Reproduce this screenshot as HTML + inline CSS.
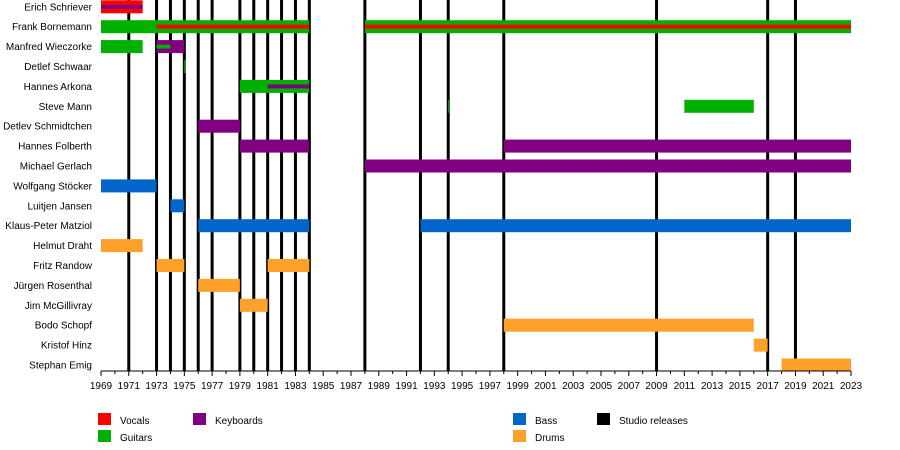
<!DOCTYPE html>
<html><head><meta charset="utf-8"><style>
body{margin:0;background:#fff;}
svg{display:block;font-family:"Liberation Sans",Arial,sans-serif;}
</style></head><body>
<svg id="chart" width="900" height="450" viewBox="0 0 900 450"></svg>
<script>
const members=["Erich Schriever","Frank Bornemann","Manfred Wieczorke","Detlef Schwaar","Hannes Arkona","Steve Mann","Detlev Schmidtchen","Hannes Folberth","Michael Gerlach","Wolfgang Stöcker","Luitjen Jansen","Klaus-Peter Matziol","Helmut Draht","Fritz Randow","Jürgen Rosenthal","Jim McGillivray","Bodo Schopf","Kristof Hinz","Stephan Emig"];
const barMember=[0,1,1,2,2,3,4,5,5,6,7,7,8,9,10,11,11,12,13,13,14,15,16,17,18];
const barRole=["vocals","guitars","guitars","guitars","keyboards","guitars","guitars","guitars","guitars","keyboards","keyboards","keyboards","keyboards","bass","bass","bass","bass","drums","drums","drums","drums","drums","drums","drums","drums"];
const barStart=[1969,1969,1988,1969,1973,1975,1979,1994,2011,1976,1979,1998,1988,1969,1974,1976,1992,1969,1973,1981,1976,1979,1998,2016,2018];
const barEnd=[1972,1984,2023,1972,1975,1975.1,1984,1994.05,2016,1979,1984,2023,2023,1973,1975,1984,2023,1972,1975,1984,1979,1981,2016,2017,2023];
const innerMember=[0,1,1,2,4];
const innerRole=["keyboards","vocals","vocals","guitars","keyboards"];
const innerStart=[1969,1973,1988,1973,1981];
const innerEnd=[1972,1984,2023,1974,1984];
const releases=[1971,1973,1974,1975,1976,1977,1979,1980,1981,1982,1983,1984,1988,1992,1994,1998,2009,2017,2019];
const colors={vocals:"#ff0000",guitars:"#00b000",keyboards:"#800080",bass:"#0066cc",drums:"#ffa02a"};
const x0=101,x1=851,yMin=1969,yMax=2023,axisY=371;
const xs=v=>x0+(v-yMin)*(x1-x0)/(yMax-yMin);
const yc=i=>6.8+i*19.9;
const NS="http://www.w3.org/2000/svg";
const svg=document.getElementById("chart");
function mk(t,a,p){const e=document.createElementNS(NS,t);for(const k in a)e.setAttribute(k,a[k]);(p||svg).appendChild(e);return e;}
members.forEach((m,i)=>{const t=mk("text",{x:92,y:yc(i)+3.5,"text-anchor":"end","font-size":"10",fill:"#000"});t.textContent=m;

});
releases.forEach(r=>{const l=mk("rect",{x:xs(r)-1.5,y:0,width:3,height:axisY,fill:"#000"});

});
barStart.forEach((s,i)=>{const r=mk("rect",{x:xs(s),y:yc(barMember[i])-6.5,width:Math.max(1,xs(barEnd[i])-xs(s)),height:13,fill:colors[barRole[i]]});

});
innerStart.forEach((s,i)=>{const r=mk("rect",{x:xs(s),y:yc(innerMember[i])-2,width:xs(innerEnd[i])-xs(s),height:4,fill:colors[innerRole[i]]});

});
const ax=mk("line",{x1:x0,x2:x1,y1:axisY,y2:axisY,stroke:"#000","stroke-width":1});


for(let y=yMin;y<=yMax;y++){const tk=mk("line",{x1:xs(y),x2:xs(y),y1:axisY,y2:axisY+(y%2?5:3),stroke:"#000","stroke-width":1});


if((y-yMin)%2===0){const t=mk("text",{x:xs(y),y:axisY+18,"text-anchor":"middle","font-size":"10"});t.textContent=y;

}}
const legend=[["Vocals","#ff0000",98,413],["Guitars","#00b000",98,430],["Keyboards","#800080",193,413],["Bass","#0066cc",513,413],["Drums","#ffa02a",513,430],["Studio releases","#000",597,413]];
legend.forEach(l=>{const g=mk("g",{});


mk("rect",{x:l[2],y:l[3],width:13,height:12,fill:l[1]},g);
const t=mk("text",{x:l[2]+22,y:l[3]+11,"font-size":"10"},g);t.textContent=l[0];});
</script>
</body></html>
